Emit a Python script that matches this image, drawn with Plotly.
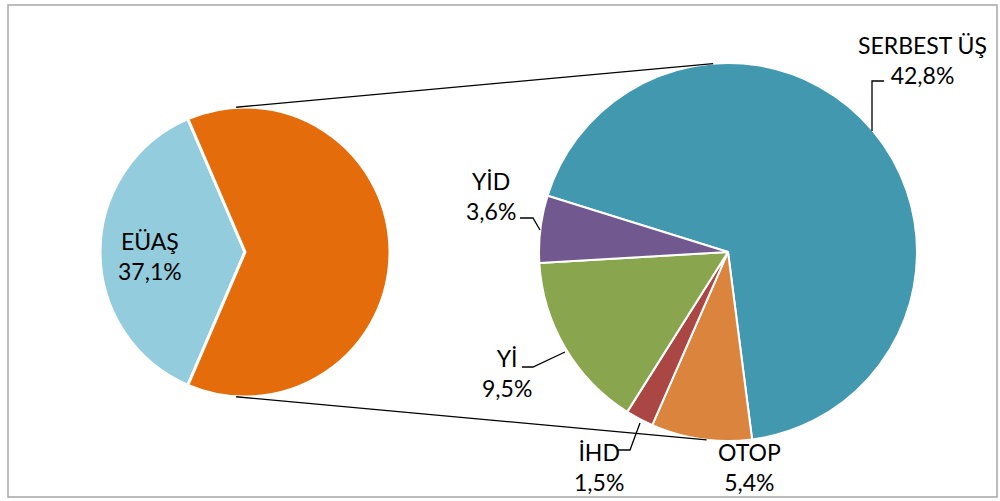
import math
import plotly.graph_objects as go

# data
left_labels = ["EÜAŞ", "Diğer"]
left_values = [37.1, 62.9]
right_labels = ["SERBEST ÜŞ", "OTOP", "İHD", "Yİ", "YİD"]
right_values = [42.8, 5.4, 1.5, 9.5, 3.6]

left_colors = ["#93CDDD", "#E46C0A"]
right_colors = ["#4198AF", "#DB843D", "#AA4643", "#89A54E", "#71588F"]

W, H = 1000, 501
FONT = "Lato"


def pc(x, y):
    # pixel -> paper coords
    return x / W, 1 - y / H


def pct(v):
    return f"{v:.1f}".replace(".", ",") + "%"


# pie geometry (pixels)
lc, lr = (245, 252), 145
rc, rr = (728, 252), 189

left_rot = 270 - 360 * left_values[0] / sum(left_values) / 2
small_share = sum(right_values[1:]) / sum(right_values)
right_rot = 230 - 360 * (1 - small_share / 2)

fig = go.Figure()
fig.add_trace(go.Pie(
    labels=left_labels, values=left_values, sort=False, direction="clockwise",
    rotation=left_rot, textinfo="none", hoverinfo="label+value",
    marker=dict(colors=left_colors, line=dict(color="white", width=3)),
    domain=dict(x=[(lc[0] - lr) / W, (lc[0] + lr) / W],
                y=[1 - (lc[1] + lr) / H, 1 - (lc[1] - lr) / H]),
    showlegend=False,
))
fig.add_trace(go.Pie(
    labels=right_labels, values=right_values, sort=False, direction="clockwise",
    rotation=right_rot, textinfo="none", hoverinfo="label+value",
    marker=dict(colors=right_colors, line=dict(color="white", width=2)),
    domain=dict(x=[(rc[0] - rr) / W, (rc[0] + rr) / W],
                y=[1 - (rc[1] + rr) / H, 1 - (rc[1] - rr) / H]),
    showlegend=False,
))


def on_circle(c, r, ang):
    a = math.radians(ang)
    return c[0] + r * math.cos(a), c[1] - r * math.sin(a)


shapes = []
# connector lines between the two pies
for la, ra in [(93.5, 94.5), (266.5, 263.5)]:
    x0, y0 = on_circle(lc, lr, la)
    x1, y1 = on_circle(rc, rr, ra)
    a, b = pc(x0, y0)
    c, d = pc(x1, y1)
    shapes.append(dict(type="line", xref="paper", yref="paper", x0=a, y0=b, x1=c, y1=d,
                       line=dict(color="black", width=1.3)))

# leader lines
leaders = [
    [(872, 131), (872, 81), (884, 81)],
    [(520, 218), (533, 218), (540, 230)],
    [(522, 367), (533, 367), (565, 352)],
    [(618, 450), (630, 450), (640, 423)],
]
for pts in leaders:
    path = "M " + " L ".join(f"{pc(x, y)[0]},{pc(x, y)[1]}" for x, y in pts)
    shapes.append(dict(type="path", xref="paper", yref="paper", path=path,
                       line=dict(color="black", width=1.3)))

# outer frame
shapes.append(dict(type="rect", xref="paper", yref="paper",
                   x0=8 / W, y0=1 - 497 / H, x1=997 / W, y1=1 - 5 / H,
                   line=dict(color="#A6A6A6", width=1.5)))

# labels
label_pos = {
    "EÜAŞ": (150, 256),
    "SERBEST ÜŞ": (922, 60),
    "OTOP": (749, 467),
    "İHD": (599, 467),
    "Yİ": (507, 373),
    "YİD": (491, 196),
}
annotations = []
for lab, val in list(zip(left_labels[:1], left_values[:1])) + list(zip(right_labels, right_values)):
    x, y = pc(*label_pos[lab])
    annotations.append(dict(x=x, y=y, xref="paper", yref="paper", showarrow=False,
                            xanchor="center", yanchor="middle",
                            text=f"{lab}<br>{pct(val)}", align="center",
                            font=dict(family=FONT, size=23, color="black")))

fig.update_layout(
    width=W, height=H, margin=dict(l=0, r=0, t=0, b=0),
    paper_bgcolor="white", plot_bgcolor="white",
    shapes=shapes, annotations=annotations,
)
fig.write_html("out.html", config={"displayModeBar": False},
               post_script="document.body.style.margin='0';document.body.style.overflow='hidden';")
